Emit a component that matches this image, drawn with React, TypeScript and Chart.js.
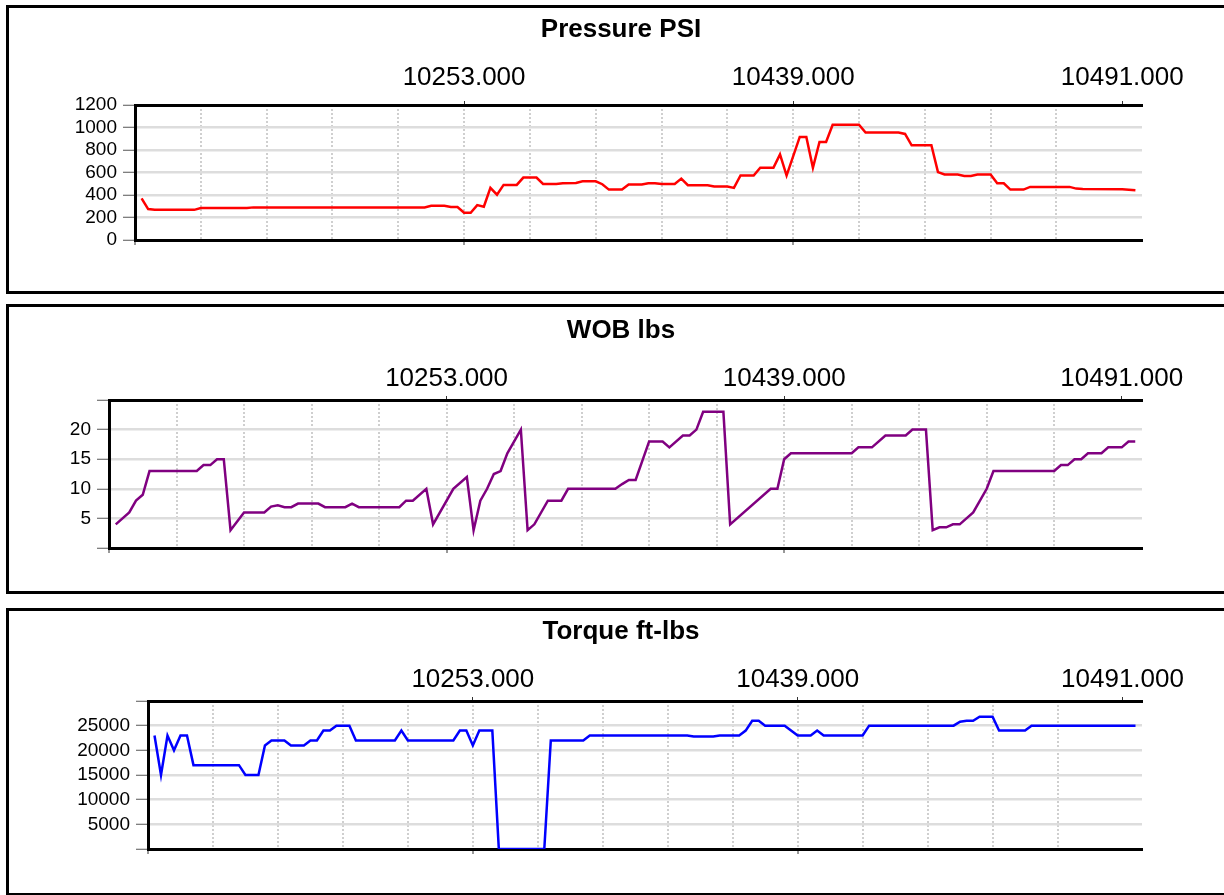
import React, { useEffect, useRef } from "react";
import { Chart, registerables } from "chart.js";
Chart.register(...registerables);

// ---------- data ----------
const depthLabels = ["10253.000", "10439.000", "10491.000"];
const depthLabelPositions = [5, 10, 15];
const timeMax = 15.3;

const pressureTime = [0.1, 0.2, 0.3, 0.9, 1.0, 1.7, 1.8, 4.4, 4.5, 4.7, 4.8, 4.9, 5.0, 5.1, 5.2, 5.3, 5.4, 5.5, 5.6, 5.8, 5.9, 6.1, 6.2, 6.4, 6.5, 6.7, 6.8, 7.0, 7.1, 7.2, 7.4, 7.5, 7.7, 7.8, 7.9, 8.0, 8.2, 8.3, 8.4, 8.7, 8.8, 9.0, 9.1, 9.2, 9.4, 9.5, 9.7, 9.8, 9.9, 10.1, 10.2, 10.3, 10.4, 10.5, 10.6, 11.0, 11.1, 11.6, 11.7, 11.8, 12.1, 12.2, 12.3, 12.5, 12.6, 12.7, 12.8, 13.0, 13.1, 13.2, 13.3, 13.5, 13.6, 14.2, 14.3, 14.4, 15.0, 15.2];
const pressurePsi = [370, 275, 268, 268, 284, 284, 290, 290, 304, 304, 293, 293, 242, 242, 310, 296, 463, 403, 490, 490, 555, 555, 498, 498, 504, 507, 522, 522, 496, 448, 448, 493, 493, 504, 504, 498, 498, 546, 487, 487, 475, 475, 463, 573, 573, 642, 642, 761, 573, 916, 916, 642, 872, 872, 1024, 1024, 955, 955, 943, 842, 842, 603, 582, 582, 570, 570, 582, 582, 504, 504, 448, 448, 472, 472, 457, 454, 451, 442];

const wobTime = [0.1, 0.3, 0.4, 0.5, 0.6, 1.3, 1.4, 1.5, 1.6, 1.7, 1.8, 2.0, 2.3, 2.4, 2.5, 2.6, 2.7, 2.8, 3.1, 3.2, 3.5, 3.6, 3.7, 4.3, 4.4, 4.5, 4.7, 4.8, 5.1, 5.3, 5.4, 5.5, 5.6, 5.7, 5.8, 5.9, 6.1, 6.2, 6.3, 6.5, 6.7, 6.8, 7.5, 7.6, 7.7, 7.8, 8.0, 8.2, 8.3, 8.5, 8.6, 8.7, 8.8, 9.1, 9.2, 9.8, 9.9, 10.0, 10.1, 11.0, 11.1, 11.3, 11.5, 11.8, 11.9, 12.1, 12.2, 12.3, 12.4, 12.5, 12.6, 12.8, 13.0, 13.1, 14.0, 14.1, 14.2, 14.3, 14.4, 14.5, 14.7, 14.8, 15.0, 15.1, 15.2];
const wobLbs = [4, 6, 8, 9, 13, 13, 14, 14, 15, 15, 3, 6, 6, 7, 7.2, 6.9, 6.9, 7.5, 7.5, 6.9, 6.9, 7.5, 6.9, 6.9, 8, 8, 10, 4, 10, 12, 3, 8, 10, 12.5, 13, 16, 20, 3, 4, 8, 8, 10, 10, 10.8, 11.5, 11.5, 18, 18, 17, 19, 19, 20, 23, 23, 4, 10, 10, 15, 16, 16, 17, 17, 19, 19, 20, 20, 3, 3.5, 3.5, 4, 4, 6, 10, 13, 13, 14, 14, 15, 15, 16, 16, 17, 17, 18, 18];

const torqueTime = [0.1, 0.2, 0.3, 0.4, 0.5, 0.6, 0.7, 1.4, 1.5, 1.7, 1.8, 1.9, 2.1, 2.2, 2.4, 2.5, 2.6, 2.7, 2.8, 2.9, 3.1, 3.2, 3.8, 3.9, 4.0, 4.7, 4.8, 4.9, 5.0, 5.1, 5.3, 5.4, 6.1, 6.2, 6.7, 6.8, 8.3, 8.4, 8.7, 8.8, 9.1, 9.2, 9.3, 9.4, 9.5, 9.8, 10.0, 10.2, 10.3, 10.4, 11.0, 11.1, 12.4, 12.5, 12.6, 12.7, 12.8, 13.0, 13.1, 13.5, 13.6, 15.2];
const torqueFtLbs = [23000, 15000, 23000, 20000, 23000, 23000, 17000, 17000, 15000, 15000, 21000, 22000, 22000, 21000, 21000, 22000, 22000, 24000, 24000, 25000, 25000, 22000, 22000, 24000, 22000, 22000, 24000, 24000, 21000, 24000, 24000, 0, 0, 22000, 22000, 23000, 23000, 22800, 22800, 23000, 23000, 24000, 26000, 26000, 25000, 25000, 23000, 23000, 24000, 23000, 23000, 25000, 25000, 25800, 26000, 26000, 26800, 26800, 24000, 24000, 25000, 25000];

const pressureAxis = [0, 1200, 200];
const wobAxis = [0, 25, 5];
const torqueAxis = [0, 30000, 5000];

// ---------- styling / layout ----------
const FONT = 'Arial, "Liberation Sans", Helvetica, sans-serif';

type PanelDef = {
  title: string;
  xs: number[];
  ys: number[];
  axis: number[];
  hideEnds: boolean;
  color: string;
  boxTop: number;
  boxH: number;
  canvasH: number;
  titlePad: number;
  topH: number;
  topPad: number;
  bottomH: number;
  yW: number;
};

const panels: PanelDef[] = [
  { title: "Pressure PSI", xs: pressureTime, ys: pressurePsi, axis: pressureAxis, hideEnds: false, color: "#ff0000",
    boxTop: 5, boxH: 289, canvasH: 283, titlePad: 6, topH: 59.8, topPad: 8, bottomH: 51, yW: 126 },
  { title: "WOB lbs", xs: wobTime, ys: wobLbs, axis: wobAxis, hideEnds: true, color: "#800080",
    boxTop: 304, boxH: 290, canvasH: 284, titlePad: 8, topH: 53.8, topPad: 2, bottomH: 43, yW: 100 },
  { title: "Torque ft-lbs", xs: torqueTime, ys: torqueFtLbs, axis: torqueAxis, hideEnds: true, color: "#0000ff",
    boxTop: 608, boxH: 288, canvasH: 282, titlePad: 5, topH: 53.8, topPad: 2, bottomH: 44, yW: 139 },
];

const CANVAS_W = 1224;
const RIGHT_W = 91;

function makeConfig(p: PanelDef): any {
  const [ymin, ymax, ystep] = p.axis;
  const data = p.xs.map((x, i) => ({ x, y: p.ys[i] }));
  return {
    type: "line",
    data: {
      datasets: [
        {
          data,
          borderColor: p.color,
          backgroundColor: p.color,
          borderWidth: 2.5,
          pointRadius: 0,
          tension: 0,
          fill: false,
          xAxisID: "x",
          yAxisID: "y",
        },
      ],
    },
    options: {
      animation: false,
      responsive: false,
      events: [],
      layout: { padding: 0 },
      plugins: {
        legend: { display: false },
        tooltip: { enabled: false },
        title: {
          display: true,
          text: p.title,
          color: "#000",
          font: { family: FONT, size: 26, weight: "bold" },
          padding: { top: p.titlePad, bottom: 0 },
        },
      },
      scales: {
        x: {
          type: "linear",
          position: "bottom",
          min: 0,
          max: timeMax,
          afterBuildTicks: (s: any) => {
            s.ticks = s.ticks.filter((t: any) => Number.isInteger(t.value));
          },
          afterFit: (s: any) => {
            s.height = p.bottomH;
          },
          ticks: { display: false, stepSize: 1 },
          grid: {
            color: (c: any) => (c.tick && c.tick.value === 0 ? "rgba(0,0,0,0)" : "#cfcfcf"),
            lineWidth: 2,
            tickLength: 5,
            tickWidth: 1,
            tickColor: (c: any) => (c.tick && c.tick.value % 5 === 0 ? "#333" : "rgba(0,0,0,0)"),
          },
          border: { color: "#000", width: 3, dash: [2, 2] },
        },
        x2: {
          type: "linear",
          position: "top",
          min: 0,
          max: timeMax,
          afterBuildTicks: (s: any) => {
            s.ticks = depthLabelPositions.map((v) => ({ value: v }));
          },
          afterFit: (s: any) => {
            s.height = p.topH;
          },
          ticks: {
            autoSkip: false,
            maxRotation: 0,
            padding: p.topPad,
            color: "#000",
            font: { family: FONT, size: 26 },
            callback: (v: any) => {
              const i = depthLabelPositions.indexOf(v);
              return i >= 0 ? depthLabels[i] : "";
            },
          },
          grid: { drawOnChartArea: false, tickLength: 4, tickColor: "#333", tickWidth: 1 },
          border: { color: "#000", width: 3 },
        },
        y: {
          type: "linear",
          position: "left",
          min: ymin,
          max: ymax,
          afterFit: (s: any) => {
            s.width = p.yW;
          },
          ticks: {
            stepSize: ystep,
            autoSkip: false,
            padding: 6,
            color: "#000",
            font: { family: FONT, size: 19 },
            callback: (v: any) => (p.hideEnds && (v === ymin || v === ymax) ? "" : String(v)),
          },
          grid: {
            color: (c: any) =>
              c.tick && (c.tick.value === ymin || c.tick.value === ymax) ? "rgba(0,0,0,0)" : "#dddddd",
            lineWidth: 2.5,
            tickLength: 12,
            tickWidth: 1,
            tickColor: "#555",
          },
          border: { color: "#000", width: 3 },
        },
        yR: {
          type: "linear",
          position: "right",
          display: true,
          afterFit: (s: any) => {
            s.width = RIGHT_W;
          },
          ticks: { display: false },
          grid: { display: false, drawTicks: false },
          border: { display: false },
        },
      },
    },
  };
}

function Panel({ p }: { p: PanelDef }) {
  const ref = useRef<HTMLCanvasElement | null>(null);
  useEffect(() => {
    if (!ref.current) return;
    const chart = new Chart(ref.current, makeConfig(p));
    return () => chart.destroy();
  }, [p]);
  return (
    <div
      style={{
        position: "absolute",
        left: 6,
        top: p.boxTop,
        width: 1300,
        height: p.boxH,
        boxSizing: "border-box",
        border: "3px solid #000",
        borderRight: "none",
        background: "#fff",
      }}
    >
      <canvas
        ref={ref}
        width={CANVAS_W}
        height={p.canvasH}
        style={{ position: "absolute", left: 0, top: 0, width: CANVAS_W, height: p.canvasH }}
      />
    </div>
  );
}

export default function App() {
  return (
    <div style={{ position: "fixed", left: 0, top: 0, right: 0, bottom: 0, overflow: "hidden", background: "#fff" }}>
      {panels.map((p) => (
        <Panel key={p.title} p={p} />
      ))}
    </div>
  );
}
